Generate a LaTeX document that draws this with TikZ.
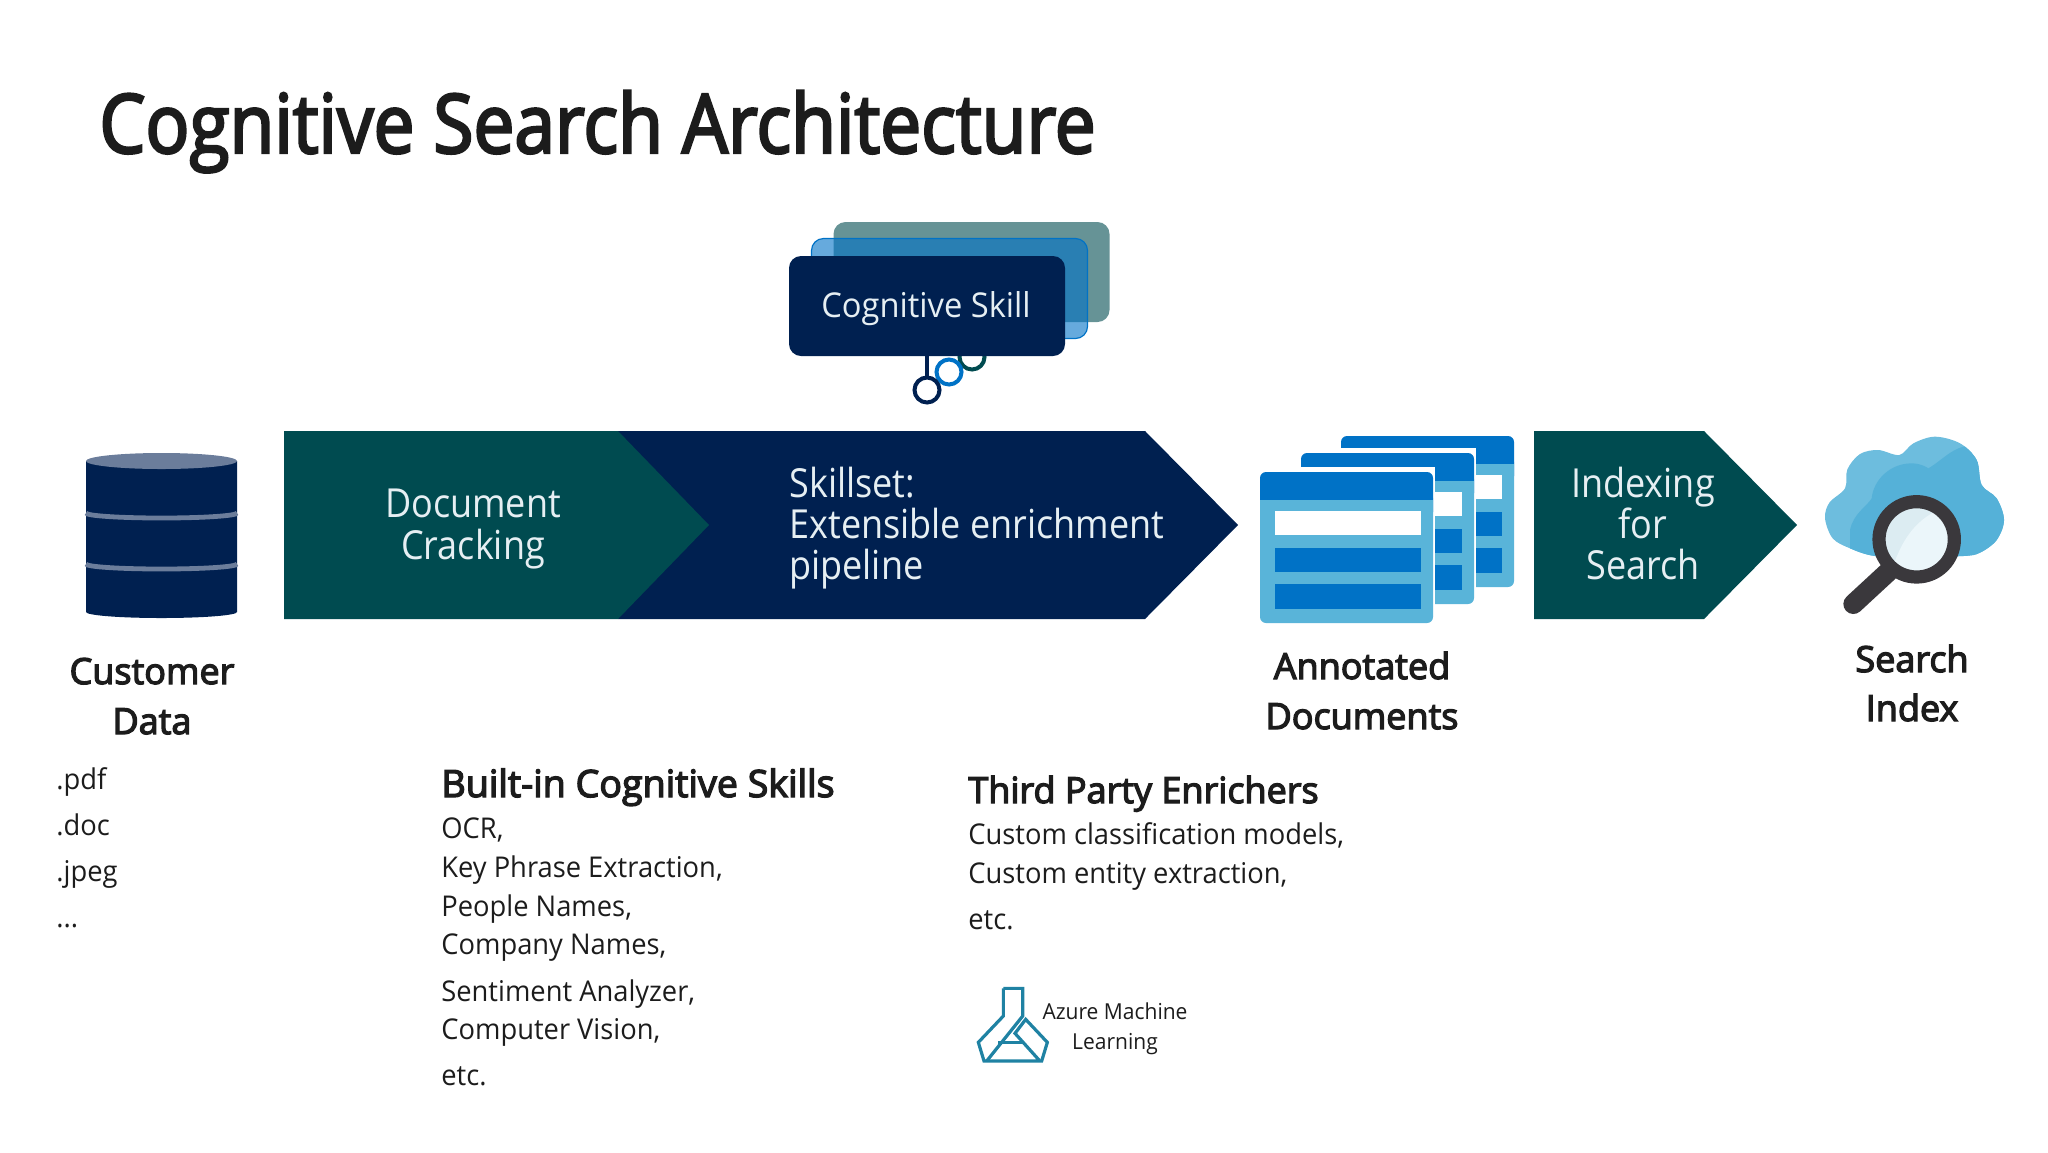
\documentclass[tikz,border=0pt]{standalone}
\usepackage{fontspec}
\setmainfont[FakeStretch=0.955]{Open Sans}
\newfontfamily\headfont[FakeStretch=1.0,FakeBold=3.5]{Open Sans}
\newfontfamily\titlefont[FakeStretch=0.89,FakeBold=3]{Open Sans}
\newfontfamily\arrowfont[FakeStretch=0.9]{Open Sans}
\usetikzlibrary{calc}

\definecolor{navyBlue}{HTML}{002050}
\definecolor{tealGreen}{HTML}{004B50}
\definecolor{azureDark}{HTML}{0072C6}
\definecolor{azureLight}{HTML}{59B4D9}
\definecolor{bandGrey}{HTML}{6B7D9B}
\definecolor{inkBlack}{HTML}{1C1C1C}
\definecolor{paleText}{HTML}{E6EFF3}
\definecolor{ringGrey}{HTML}{3A383C}
\definecolor{logoBlue}{HTML}{1F82A3}

\tikzset{
  x=0.5pt, y=-0.5pt,
  titleText/.style={anchor=base west, inner sep=0pt, text=inkBlack, font=\titlefont\fontsize{41}{50}\selectfont},
  headText/.style={anchor=base west, inner sep=0pt, text=inkBlack, font=\headfont\fontsize{18}{22}\selectfont},
  iconText/.style={anchor=base, inner sep=0pt, text=inkBlack, font=\headfont\fontsize{18}{22}\selectfont},
  listText/.style={anchor=base west, inner sep=0pt, text=inkBlack, font=\fontsize{14.3}{17}\selectfont},
  arrowText/.style={inner sep=0pt, text=paleText, font=\arrowfont\fontsize{20}{24}\selectfont},
  logoText/.style={anchor=base, inner sep=0pt, text=inkBlack, font=\fontsize{11}{14}\selectfont},
  skillCard/.style={rounded corners=6pt, minimum width=138pt, minimum height=50pt, inner sep=0pt},
  skillRing/.style={circle, draw=#1, line width=2pt, fill=white, minimum size=12.5pt, inner sep=0pt},
  zoomed/.style={shift={#1}, x=0.16667pt, y=-0.16667pt},
  docIcon/.pic={
    \fill [white] (-1,-5) rectangle (175,152);
    \fill [azureLight, rounded corners=3pt] (0,20) -- (0,151) -- (173,151) -- (173,20) -- cycle;
    \fill [azureDark, rounded corners=3pt] (0,40) -- (0,0) -- (173,0) -- (173,40);
    \fill [azureLight] (0,28) rectangle (173,45);
    \fill [white] (15,39) rectangle (161,63);
    \fill [azureDark] (15,76) rectangle (161,100);
    \fill [azureDark] (15,112) rectangle (161,137);
  }
}

\begin{document}
\begin{tikzpicture}
  \useasboundingbox (0,0) rectangle (2048,1152);

  % Title
  \node [titleText] (title) at (99,153) {Cognitive Search Architecture};

  % Customer data section: cylinder
  \fill [navyBlue] (86,461) -- (86,612) arc [start angle=180, end angle=0, x radius=75.5, y radius=6] -- (237,461) -- cycle;
  \fill [bandGrey] (161.5,461) ellipse [x radius=75.5, y radius=8];
  \foreach \bandY in {513,564} {
    \draw [bandGrey, line width=2.4pt] (86,\bandY) arc [start angle=180, end angle=0, x radius=75.5, y radius=5];
  }
  \node [iconText] (customer) at (152,684) {Customer};
  \node [iconText] (data) at ($(customer.base)+(0,50)$) {Data};
  \node [listText] (pdf) at (56,789) {.pdf};
  \node [listText] (doc) at ($(pdf.base west)+(0,46)$) {.doc};
  \node [listText] (jpeg) at ($(doc.base west)+(0,46)$) {.jpeg};
  \node [listText] (dots) at ($(jpeg.base west)+(0,46)$) {...};

  % Pipeline section: arrows
  \fill [navyBlue] (618,431) -- (1145,431) -- (1238,525) -- (1145,619) -- (618,619) -- cycle;
  \fill [tealGreen] (284,431) -- (618,431) -- (709,525) -- (618,619) -- (284,619) -- cycle;
  \fill [tealGreen] (1534,431) -- (1704,431) -- (1797,525) -- (1704,619) -- (1534,619) -- cycle;
  \node [arrowText, anchor=base] (cracking1) at (473,517) {Document};
  \node [arrowText, anchor=base] (cracking2) at ($(cracking1.base)+(0,42)$) {Cracking};
  \node [arrowText, anchor=base west] (skillset1) at (789,497) {Skillset:};
  \node [arrowText, anchor=base west] (skillset2) at ($(skillset1.base west)+(0,41)$) {Extensible enrichment};
  \node [arrowText, anchor=base west] (skillset3) at ($(skillset2.base west)+(0,41)$) {pipeline};
  \node [arrowText, anchor=base] (indexing1) at (1643,497) {Indexing};
  \node [arrowText, anchor=base] (indexing2) at ($(indexing1.base)+(0,41)$) {for};
  \node [arrowText, anchor=base] (indexing3) at ($(indexing2.base)+(0,41)$) {Search};

  % Cognitive skill section: cards and rings
  \node [skillCard, fill=tealGreen, fill opacity=0.6] (cardBack) at (971.5,272) {};
  \node [skillCard, fill=azureDark, fill opacity=0.6, draw=azureDark, line width=0.6pt] (cardMiddle) at (949.5,288.5) {};
  \coordinate (stemTop) at (927,340);
  \node [skillRing=tealGreen] (ringGreen) at (972,357) {};
  \node [skillRing=azureDark] (ringBlue) at (949,372) {};
  \draw [navyBlue, line width=2pt] (stemTop) -- (927,390);
  \node [skillRing=navyBlue] (ringNavy) at (927,390) {};
  \node [skillCard, fill=navyBlue] (cardFront) at (927,306) {};
  \node [anchor=base, inner sep=0pt, text=paleText, font=\fontsize{17.1}{20}\selectfont] (skillLabel) at (926,317) {Cognitive Skill};

  % Annotated documents section
  \foreach \docX/\docY in {1341/436, 1301/453, 1260/472} {
    \pic at (\docX,\docY) {docIcon};
  }
  \node [iconText] (annotated) at (1362,679) {Annotated};
  \node [iconText] (documents) at ($(annotated.base)+(0,50)$) {Documents};

  % Search index section: cloud and lens
  \begin{scope}[zoomed={(1800,420)}]
    \def\cloudOutline{plot [smooth cycle, tension=0.55] coordinates {(75,295) (88,248) (135,205) (142,148) (180,102) (235,90) (298,105) (340,70) (405,50) (480,70) (530,120) (545,195) (590,235) (612,300) (590,360) (540,398) (490,408) (350,410) (225,408) (150,385) (98,355)}}
    \fill [azureLight!88!white] \cloudOutline;
    \begin{scope}
      \clip \cloudOutline;
      \fill [azureLight!95!azureDark] (150,420) -- (150,330) .. controls (160,280) and (200,260) .. (215,235) .. controls (220,180) and (270,130) .. (335,130) .. controls (365,130) and (385,145) .. (385,145) .. controls (420,125) and (450,90) .. (490,80) -- (650,60) -- (650,420) -- cycle;
    \end{scope}
    \draw [ringGrey, line width=10pt, line cap=round] (265,455) -- (160,552);
    \fill [black!12!azureLight!20!white] (350,358) circle [radius=113];
    \begin{scope}
      \clip (350,358) circle [radius=113];
      \fill [azureLight!12!white] (270,470) .. controls (300,360) and (350,290) .. (440,260) -- (500,500) -- cycle;
    \end{scope}
    \draw [ringGrey, line width=6.6pt] (350,358) circle [radius=113];
  \end{scope}
  \node [iconText] (search) at (1912,672) {Search};
  \node [iconText] (index) at ($(search.base)+(0,49)$) {Index};

  % Built-in skills section
  \node [headText, font=\headfont\fontsize{18.8}{22}\selectfont] (builtin) at (441,797) {Built-in Cognitive Skills};
  \node [listText] (ocr) at ($(builtin.base west)+(0,41)$) {OCR,};
  \node [listText] (keyPhrase) at ($(ocr.base west)+(0,39)$) {Key Phrase Extraction,};
  \node [listText] (people) at ($(keyPhrase.base west)+(0,39)$) {People Names,};
  \node [listText] (company) at ($(people.base west)+(0,38)$) {Company Names,};
  \node [listText] (sentiment) at ($(company.base west)+(0,47)$) {Sentiment Analyzer,};
  \node [listText] (vision) at ($(sentiment.base west)+(0,38)$) {Computer Vision,};
  \node [listText] (etcA) at ($(vision.base west)+(0,46)$) {etc.};

  % Third party section
  \node [headText] (thirdParty) at (968,803) {Third Party Enrichers};
  \node [listText] (classify) at ($(thirdParty.base west)+(0,41)$) {Custom classification models,};
  \node [listText] (entity) at ($(classify.base west)+(0,39)$) {Custom entity extraction,};
  \node [listText] (etcB) at ($(entity.base west)+(0,46)$) {etc.};

  % Azure logo
  \begin{scope}[zoomed={(970,980)}, logoBlue, line width=1.6pt, line join=miter]
    \draw (100,25) -- (100,108) -- (25,187) -- (42,243) -- (215,243) -- (232,187) -- (167,118) -- (135,160) -- (207,240);
    \draw (100,25) -- (158,25) -- (158,108) -- (50,243);
    \draw (85,187) -- (160,187);
  \end{scope}
  \node [logoText] (azure1) at (1115,1019) {Azure Machine};
  \node [logoText] (azure2) at ($(azure1.base)+(0,30)$) {Learning};
\end{tikzpicture}
\end{document}
